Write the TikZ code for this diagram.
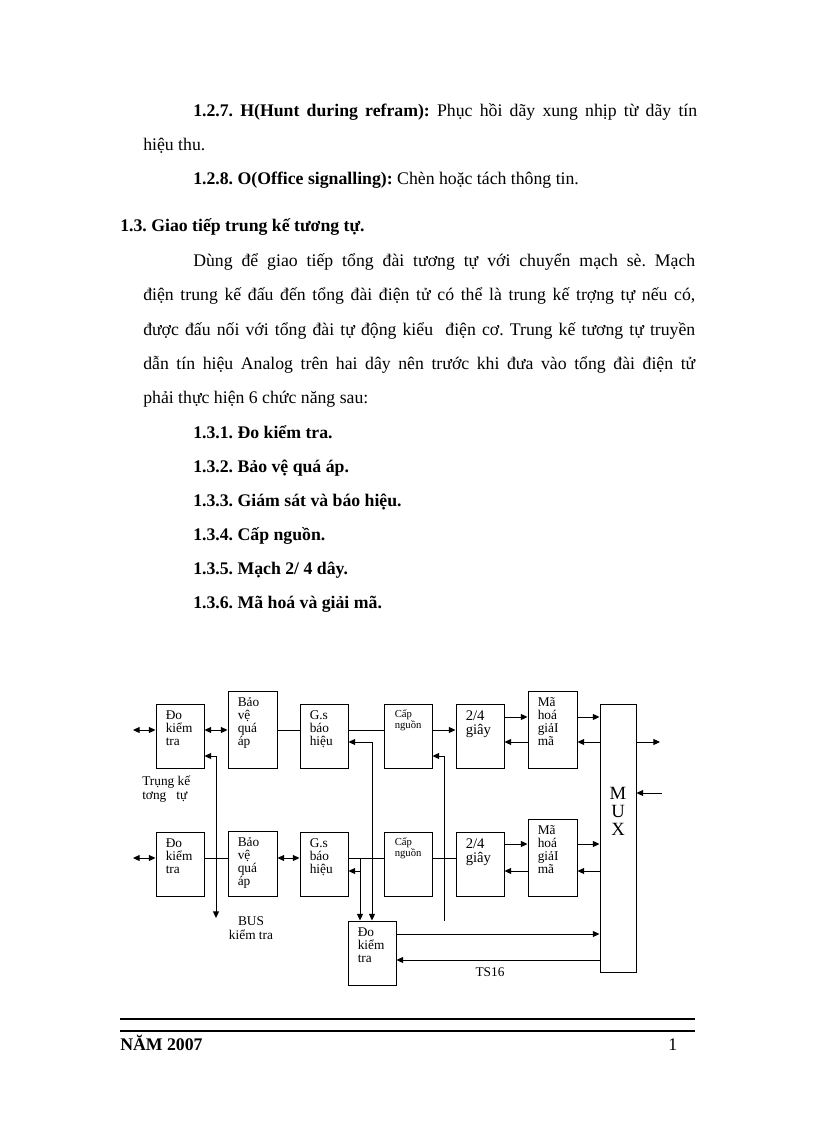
\documentclass[tikz,border=0pt]{standalone}
\usepackage{fontspec}
\setmainfont{Liberation Serif}
\usetikzlibrary{arrows.meta,calc,fit}
\frenchspacing
\begin{document}
\begin{tikzpicture}[x=0.75pt,y=-0.75pt,
  blk/.style={draw,line width=0.75pt,inner sep=0pt},
  btxt/.style={anchor=north west,inner sep=0pt,align=left,font=\fontsize{10}{9.75}\selectfont},
  stxt/.style={anchor=north west,inner sep=0pt,align=left,font=\fontsize{8}{8.2}\selectfont},
  mtxt/.style={anchor=north west,inner sep=0pt,align=left,font=\fontsize{11}{10.5}\selectfont},
  ln/.style={line width=0.75pt},
  ar/.style={ln,-{Triangle[length=5pt,width=4.5pt]}},
  dar/.style={ln,{Triangle[length=5pt,width=4.5pt]}-{Triangle[length=5pt,width=4.5pt]}},
  body/.style={anchor=base west,inner sep=0pt,font=\fontsize{13.3}{15}\selectfont},
  lbl/.style={inner sep=0pt,font=\fontsize{10}{11}\selectfont}]

\useasboundingbox (0,0) rectangle (816,1123);

% ---------------- body text ----------------
\node[body] (t1) at (193,117) {\makebox[378pt][s]{\textbf{1.2.7. H(Hunt during refram):} Phục hồi dãy xung nhịp từ dãy tín}};
\node[body] (t2) at (143,151) {hiệu thu.};
\node[body] (t3) at (193,185) {\textbf{1.2.8. O(Office signalling):} Chèn hoặc tách thông tin.};
\node[body] (t4) at (120,232) {\textbf{1.3. Giao tiếp trung kế tương tự.}};
\node[body] (t5) at (193,266) {\makebox[376.5pt][s]{Dùng để giao tiếp tổng đài tương tự với chuyển mạch sè. Mạch}};
\node[body] (t6) at (143,300) {\makebox[414pt][s]{điện trung kế đấu đến tổng đài điện tử có thể là trung kế trợng tự nếu có,}};
\node[body] (t7) at (143,335) {\makebox[414pt][s]{được đấu nối với tổng đài tự động kiểu\ \ điện cơ. Trung kế tương tự truyền}};
\node[body] (t8) at (143,369) {\makebox[414pt][s]{dẫn tín hiệu Analog trên hai dây nên trước khi đưa vào tổng đài điện tử}};
\node[body] (t9) at (143,403) {phải thực hiện 6 chức năng sau:};
\node[body] (s1) at (193,438) {\textbf{1.3.1. Đo kiểm tra.}};
\node[body] (s2) at (193,472) {\textbf{1.3.2. Bảo vệ quá áp.}};
\node[body] (s3) at (193,506) {\textbf{1.3.3. Giám sát và báo hiệu.}};
\node[body] (s4) at (193,540) {\textbf{1.3.4. Cấp nguồn.}};
\node[body] (s5) at (193,574) {\textbf{1.3.5. Mạch 2/ 4 dây.}};
\node[body] (s6) at (193,608) {\textbf{1.3.6. Mã hoá và giải mã.}};

% ---------------- blocks ----------------
\node[blk,fit={(156,704) (204,768)}] (dk1) {};
\node[blk,fit={(228,691) (277,768)}] (bv1) {};
\node[blk,fit={(300,704) (348,768)}] (gs1) {};
\node[blk,fit={(384,704) (432,768)}] (cn1) {};
\node[blk,fit={(456,704) (504,768)}] (g1) {};
\node[blk,fit={(528,691) (577,768)}] (mh1) {};
\node[blk,fit={(600,704) (636,972)}] (mux) {};
\node[blk,fit={(156,832) (204,896)}] (dk2) {};
\node[blk,fit={(228,831) (277,896)}] (bv2) {};
\node[blk,fit={(300,832) (348,896)}] (gs2) {};
\node[blk,fit={(384,832) (432,896)}] (cn2) {};
\node[blk,fit={(456,832) (504,896)}] (g2) {};
\node[blk,fit={(528,819) (577,896)}] (mh2) {};
\node[blk,fit={(348,921) (396,985)}] (dk3) {};

% block texts
\node[btxt] (dk1t) at ($(dk1.north west)+(10,7)$) {Đo\\kiểm\\tra};
\node[btxt] (bv1t) at ($(bv1.north west)+(10,7)$) {Bảo\\vệ\\quá\\áp};
\node[btxt] (gs1t) at ($(gs1.north west)+(10,7)$) {G.s\\báo\\hiệu};
\node[stxt] (cn1t) at ($(cn1.north west)+(11,6)$) {Cấp\\nguồn};
\node[mtxt] (g1t) at ($(g1.north west)+(10,7)$) {2/4\\giây};
\node[btxt] (mh1t) at ($(mh1.north west)+(10,7)$) {Mã\\hoá\\giảI\\mã};
\node[btxt] (dk2t) at ($(dk2.north west)+(10,7)$) {Đo\\kiểm\\tra};
\node[btxt] (bv2t) at ($(bv2.north west)+(10,7)$) {Bảo\\vệ\\quá\\áp};
\node[btxt] (gs2t) at ($(gs2.north west)+(10,7)$) {G.s\\báo\\hiệu};
\node[stxt] (cn2t) at ($(cn2.north west)+(11,6)$) {Cấp\\nguồn};
\node[mtxt] (g2t) at ($(g2.north west)+(10,7)$) {2/4\\giây};
\node[btxt] (mh2t) at ($(mh2.north west)+(10,7)$) {Mã\\hoá\\giảI\\mã};
\node[btxt] (dk3t) at ($(dk3.north west)+(10,7)$) {Đo\\kiểm\\tra};
\node[inner sep=0pt,font=\fontsize{14}{13.5}\selectfont,align=center] (muxt) at (618,811) {M\\U\\X};

% labels
\node[lbl,align=left,anchor=west] (trk) at (142,789) {Trụng kế\\tơng\ \ \ tự};
\node[lbl,align=center] (bus) at (251,928) {BUS\\kiểm tra};
\node[lbl] (ts) at (490,972) {TS16};

% ---------------- connectors row 1 ----------------
\coordinate (r1) at (0,730);
\coordinate (a1) at (0,717);
\coordinate (b1) at (0,742);
\coordinate (l1) at (133,730);
\draw[dar] (l1) -- (dk1.west |- r1);
\draw[dar] (dk1.east |- r1) -- (bv1.west |- r1);
\draw[ln] (bv1.east |- r1) -- (gs1.west |- r1);
\draw[ln] (gs1.east |- r1) -- (cn1.west |- r1);
\draw[ar] (cn1.east |- r1) -- (g1.west |- r1);
\draw[ar] (g1.east |- a1) -- (mh1.west |- a1);
\draw[ar] (mh1.west |- b1) -- (g1.east |- b1);
\draw[ar] (mh1.east |- a1) -- (mux.west |- a1);
\draw[ar] (mux.west |- b1) -- (mh1.east |- b1);
\coordinate (o1) at (660,742);
\draw[ar] (mux.east |- o1) -- (o1);
\coordinate (i1) at (662,793);
\draw[ar] (i1) -- (mux.east |- i1);

% bus line
\coordinate (bt) at (216,756);
\coordinate (bb) at (216,918);
\draw[ar] (bt) -- (dk1.east |- bt);
\draw[ar] (bt) -- (bb);

% vertical feeds to bottom Do kiem tra
\coordinate (v1) at (372,742);
\draw[ar] (v1) -- (gs1.east |- v1);
\draw[ar] (v1) -- (v1 |- dk3.north);
\coordinate (v2) at (444,756);
\draw[ar] (v2) -- (cn1.east |- v2);
\draw[ln] (v2) -- (v2 |- dk3.north);

% ---------------- connectors row 2 ----------------
\coordinate (r2) at (0,858);
\coordinate (a2) at (0,844);
\coordinate (b2) at (0,871);
\coordinate (l2) at (133,858);
\draw[dar] (l2) -- (dk2.west |- r2);
\draw[ln] (dk2.east |- r2) -- (bv2.west |- r2);
\draw[dar] (bv2.east |- r2) -- (gs2.west |- r2);
\draw[ln] (gs2.east |- r2) -- (cn2.west |- r2);
\draw[ln] (cn2.east |- r2) -- (g2.west |- r2);
\draw[ar] (g2.east |- a2) -- (mh2.west |- a2);
\draw[ar] (mh2.west |- b2) -- (g2.east |- b2);
\draw[ar] (mh2.east |- a2) -- (mux.west |- a2);
\draw[ar] (mux.west |- b2) -- (mh2.east |- b2);
\coordinate (v3) at (360,858);
\draw[ar] (v3) -- (v3 |- dk3.north);
\draw[ar] (v3 |- b2) -- (gs2.east |- b2);

% bottom
\coordinate (a3) at (0,934);
\coordinate (b3) at (0,960);
\draw[ar] (dk3.east |- a3) -- (mux.west |- a3);
\draw[ar] (mux.west |- b3) -- (dk3.east |- b3);

% ---------------- footer ----------------
\coordinate (f1) at (120,1019);
\coordinate (f2) at (695,1019);
\coordinate (f3) at (120,1031);
\coordinate (f4) at (695,1031);
\draw[line width=2.2pt] (f1) -- (f2);
\draw[line width=1.4pt] (f3) -- (f4);
\node[body] (yr) at (120,1050) {\textbf{NĂM 2007}};
\node[body] (pg) at (668,1050) {1};
\end{tikzpicture}
\end{document}
